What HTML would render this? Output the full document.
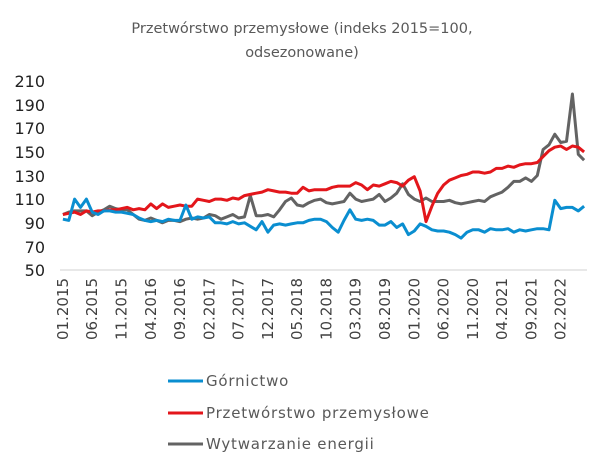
<!DOCTYPE html>
<html><head><meta charset="utf-8"><style>
html,body{margin:0;padding:0;background:#fff;}
svg{display:block;}
</style></head><body>
<svg id="s" width="605" height="468" xmlns="http://www.w3.org/2000/svg" font-family="'DejaVu Sans','Liberation Sans',sans-serif">
<text x="302" y="33" text-anchor="middle" font-size="14.5" fill="#595959">Przetwórstwo przemysłowe (indeks 2015=100,</text>
<text x="302" y="57" text-anchor="middle" font-size="14.5" fill="#595959">odsezonowane)</text>
<g font-size="16" fill="#222" text-anchor="end" font-family="'DejaVu Sans',sans-serif">
<text x="45" y="87">210</text><text x="45" y="111">190</text><text x="45" y="134">170</text><text x="45" y="158">150</text><text x="45" y="182">130</text><text x="45" y="205">110</text><text x="45" y="229">90</text><text x="45" y="253">70</text><text x="45" y="276">50</text>
</g>
<line x1="60" y1="270" x2="587" y2="270" stroke="#d9d9d9" stroke-width="1.2"/>
<g id="xl" font-size="15" fill="#404040" text-anchor="end" font-family="'DejaVu Sans',sans-serif"></g>
<polyline id="g" fill="none" stroke="#636363" stroke-width="3" stroke-linejoin="round"/>
<polyline id="r" fill="none" stroke="#e3161b" stroke-width="3" stroke-linejoin="round"/>
<polyline id="b" fill="none" stroke="#0a8ed0" stroke-width="3" stroke-linejoin="round"/>
<line x1="168" y1="381" x2="203" y2="381" stroke="#0a8ed0" stroke-width="3"/>
<line x1="168" y1="413" x2="203" y2="413" stroke="#e3161b" stroke-width="3"/>
<line x1="168" y1="444" x2="203" y2="444" stroke="#636363" stroke-width="3"/>
<g font-size="15" fill="#595959" letter-spacing="0.8">
<text x="206" y="386">Górnictwo</text>
<text x="206" y="418">Przetwórstwo przemysłowe</text>
<text x="206" y="449">Wytwarzanie energii</text>
</g>
</svg>
<script>
var B=[93,92,110,103,110,99,97,100,100,99,99,98,97,94,92,91,92,91,93,92,92,105,93,95,94,95,90,90,89,91,89,90,87,84,91,82,88,89,88,89,90,90,92,93,93,91,86,82,92,101,93,92,93,92,88,88,91,86,89,80,83,89,87,84,83,83,82,80,77,82,84,84,82,85,84,84,85,82,84,83,84,85,85,84,109,102,103,103,100,104];
var R=[97,98,99,97,100,99,100,100,101,101,102,103,101,102,101,106,102,106,103,104,105,104,104,110,109,108,110,110,109,111,110,113,114,115,116,118,117,116,116,115,115,120,117,118,118,118,120,121,121,121,124,122,118,122,121,123,125,124,121,126,129,117,91,104,115,122,126,128,130,131,133,133,132,133,136,136,138,137,139,140,140,141,146,151,154,155,152,155,154,150];
var G=[97,99,100,100,100,96,99,101,104,102,101,101,97,93,92,94,92,90,92,92,91,93,94,93,94,97,96,93,95,97,94,95,113,96,96,97,95,101,108,111,105,104,107,109,110,107,106,107,108,115,110,108,109,110,114,108,111,115,123,114,110,108,111,108,108,108,109,107,106,107,108,109,108,112,114,116,120,125,125,128,125,130,152,156,165,158,159,199,148,143];
function pts(a){return a.map(function(v,i){return (60+(i+0.5)*5.856).toFixed(1)+","+(270-(v-50)*1.181).toFixed(1)}).join(" ")}
document.getElementById("b").setAttribute("points",pts(B));
document.getElementById("r").setAttribute("points",pts(R));
document.getElementById("g").setAttribute("points",pts(G));
var labs=["01.2015","06.2015","11.2015","04.2016","09.2016","02.2017","07.2017","12.2017","05.2018","10.2018","03.2019","08.2019","01.2020","06.2020","11.2020","04.2021","09.2021","02.2022"];
var xl=document.getElementById("xl"),h="";
labs.forEach(function(l,k){var x=60+(k*5+0.5)*5.856+5;h+='<text transform="translate('+x.toFixed(1)+',278) rotate(-90)">'+l+'</text>';});
xl.innerHTML=h;
</script>
</body></html>
